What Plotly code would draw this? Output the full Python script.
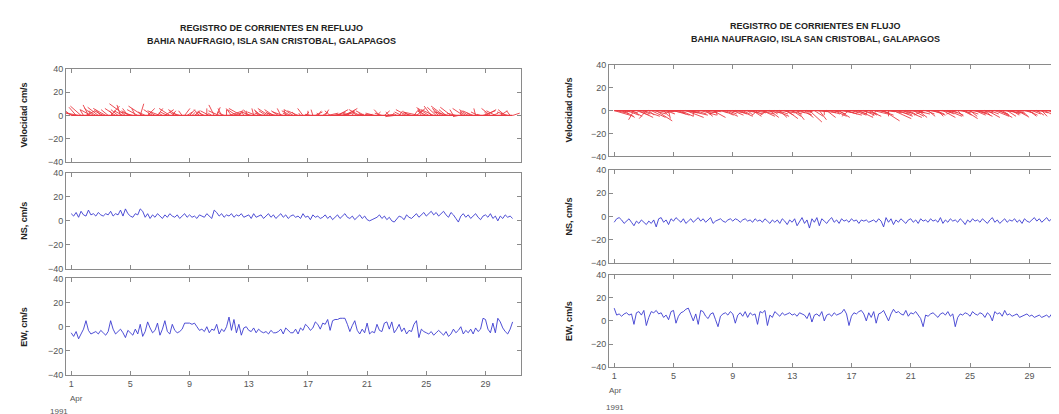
import plotly.graph_objects as go

# ---------------- DATA (4-hourly samples, 6 per day, Apr 1-30 1991) ----------------
samples_per_day = 6
n_days = 30

# REFLUJO (left)
ns_reflujo = [
    6, 4, 7, 3, 8, 5,
    4, 9, 5, 6, 4, 7,
    5, 4, 6, 5, 8, 4,
    6, 5, 9, 4, 10, 6,
    4, 3, 6, 5, 10, 8,
    3, 6, 2, 5, 3, 6,
    4, 2, 5, 3, 6, 4,
    3, 5, 2, 4, 6, 3,
    5, 3, 4, 2, 5, 4,
    3, 6, 4, 2, 9, 7,
    4, 6, 3, 5, 4, 6,
    3, 5, 4, 6, 3, 4,
    5, 2, 6, 3, 4, 5,
    2, 4, 6, 3, 5, 2,
    4, 6, 3, 5, 2, 4,
    5, 3, 4, 2, 6, 3,
    4, 1, 5, 3, 4, 2,
    3, 5, 2, 4, 1, 3,
    5, 2, 4, 6, 3, 2,
    4, 1, 3, 5, 2, 4,
    1, 0, 1, 2, 3, 5,
    2, 4, 1, 3, 0, -1,
    2, 4, 3, 1, 5, 3,
    2, 4, 6, 3, 5, 7,
    4, 6, 8, 5, 7, 4,
    6, 8, 5, 3, 7, 5,
    2, -1, 4, 6, 3, 5,
    2, 4, 6, 3, 1, 4,
    5, 3, 6, 2, 4, 0,
    4, 2, 5, 3, 4, 2,
]
ew_reflujo = [
    -5, -8, -4, -10, -6, -2,
    5, -3, -6, -5, -4, -6,
    -3, -5, -7, -4, 5, -2,
    -6, -4, -2, -5, -9, -3,
    -5, -7, -2, -6, 2, -8,
    -4, 4, -1, -5, -3, 3,
    -7, -2, 5, -4, -6, 2,
    -3, -5, -4, -2, 3, 3,
    3, 2, 3, 0, -3, -2,
    -4, 0, -5, -2, -3, 2,
    -6, -2, -4, 0, 8, -3,
    6, -5, 2, -7, -1, 0,
    -3, -4, -1, -5, -2, -4,
    -5, -4, -6, -3, -5, -5,
    -4, -2, -6, -1, -3, -5,
    -5, -2, -6, -1, -3, 2,
    0, -3, -1, 4, 2, -2,
    3, 2, 6, -3, 5, 6,
    6, 7, 7, 7, 2, -4,
    1, 5, -3, -6, -2, -5,
    3, -6, -4, -5, 2, -3,
    -4, 3, 4, -2, 4, -5,
    -2, 2, -4, -1, -6, -3,
    -4, 2, 5, -9, -2, -4,
    -5, -6, -4, -7, -5, -3,
    -5, -7, -4, -8, -6, -2,
    -5, -3, 0, -6, -3, -5,
    -2, -6, -1, -4, -2, 7,
    6, -2, -5, 3, -5, 7,
    4, -1, -4, -6, -2, 4,
]

# FLUJO (right)
ns_flujo = [
    -5, -2, -1, -3, -6, -4,
    -2, -5, -8, -4, -6, -3,
    -5, -7, -4, -6, -3, -9,
    -2, -1, -5, -3, -7, -2,
    -4, -1, -3, -5, -2, -6,
    -4, -2, -5, -3, -1, -4,
    -2, -5, -3, -1, -6, -4,
    -3, -2, -4, -5, -3, -2,
    -4, -2, -3, -5, -3, -2,
    -4, -3, -5, -2, -4, -3,
    -5, -2, -4, -6, -3, -5,
    -3, -6, -2, -4, -7, -3,
    -5, -2, -8, -4, -1, -6,
    -3, -10, -2, -5, -1, -8,
    -2, -4, -6, -3, -1, -5,
    -3, -6, -2, -4, -3, -5,
    -2, -4, -3, -6, -3, -4,
    -3, -5, -4, -3, -5, -2,
    -4, -9, -1, -5, -2, -7,
    -3, -5, -2, -4, -6, -3,
    -2, -5, -3, -6, -2, -4,
    -3, -5, -2, -4, -3, -5,
    -1, -6, -3, -5, -2, -4,
    -3, -5, -2, -4, -7, -3,
    -5, -2, -4, -3, -5, -2,
    -4, -6, -3, -1, -5, -3,
    -6, -4, -2, -5, -3, -4,
    -2, -5, -3, -6, -2, -4,
    -5, -3, -1, -4, -2, -5,
    -3, -1, -4, -2, -3, -4,
]
ew_flujo = [
    11, 5, 6, 4, 6, 7,
    5, 6, -3, 7, 8, 5,
    9, -4, 3, 8, 7, 9,
    6, 7, 3, 5, 1, 8,
    9, -2, 4, 7, 8, 10,
    11, 5, 0, 6, -3, 9,
    8, 4, 2, 6, 7, 1,
    -5, 4, 6, 7, 5, 8,
    6, -2, 5, 7, 4, 8,
    3, 7, 5, 6, -3, 8,
    7, 9, -4, 5, 3, 8,
    6, 4, 7, 5, 6, 7,
    5, 6, 4, 7, 6, 5,
    2, 7, -1, 5, 6, 4,
    8, 0, 5, 6, 4, 7,
    5, 6, 7, 10, 6, -4,
    4, 7, 6, 8, 9, 6,
    0, 7, 3, 8, -2, 6,
    7, 9, 5, 0, 6, 10,
    7, 8, 6, 5, 9, 4,
    7, 6, 8, 5, 2, -5,
    5, 4, 6, 7, 5, 3,
    6, 7, 5, 8, 4, 6,
    -5, 3, 6, 5, 7, 6,
    4, 8, 6, 5, 7, 6,
    3, 7, 5, 0, 8, 6,
    7, 4, 9, 5, 6, 4,
    5, 6, 3, 4, 5, 6,
    4, 5, 3, 4, 5, 3,
    4, 5, 3, 6, 4, 5,
]

day_ticks = [1, 5, 9, 13, 17, 21, 25, 29]
y_ticks = [-40, -20, 0, 20, 40]
titles = ["REGISTRO DE CORRIENTES EN REFLUJO", "REGISTRO DE CORRIENTES EN FLUJO"]
subtitle = "BAHIA NAUFRAGIO, ISLA SAN CRISTOBAL, GALAPAGOS"
ylabels = ["Velocidad cm/s", "NS, cm/s", "EW, cm/s"]

# time in day-of-month units
t = [1 + i / samples_per_day for i in range(samples_per_day * n_days)]

# ---------------- LAYOUT HELPERS ----------------
W, H = 1059, 414
X_RANGE = [0.65, 31.4]
STICK_K = 0.12  # days per cm/s, horizontal stick scaling (feather plot)
FONT = "Liberation Sans, Arial"

def px_x(p):
    return p / W

def px_y(p):
    return 1 - p / H

panels = [
    dict(x0=58, x1=513, rows=[(57, 153), (164, 262), (272, 371)],
         ns=ns_reflujo, ew=ew_reflujo, title=titles[0], tcx=263, ty=(15, 29),
         ylab_x=16, apr=(68, 395), yr=(51, 408)),
    dict(x0=601, x1=1057, rows=[(53, 147), (161, 256), (268, 363)],
         ns=ns_flujo, ew=ew_flujo, title=titles[1], tcx=807, ty=(13, 27),
         ylab_x=561, apr=(607, 387), yr=(607, 404)),
]

RED = "#ea3a42"
BLUE = "#3b3bd0"
AX = "#8a8a8a"
TXT = "#555555"

fig = go.Figure()
layout = dict(width=W, height=H, margin=dict(l=0, r=0, t=0, b=0),
              paper_bgcolor="white", plot_bgcolor="white", showlegend=False)
annotations = []
ax_i = 0
for p in panels:
    for r, (top, bot) in enumerate(p["rows"]):
        ax_i += 1
        xa = "xaxis" if ax_i == 1 else f"xaxis{ax_i}"
        ya = "yaxis" if ax_i == 1 else f"yaxis{ax_i}"
        xr = "x" if ax_i == 1 else f"x{ax_i}"
        yr = "y" if ax_i == 1 else f"y{ax_i}"
        if r == 0:
            sx, sy = [], []
            for ti, u, v in zip(t, p["ew"], p["ns"]):
                sx += [ti, ti + STICK_K * u, None]
                sy += [0, v, None]
            fig.add_trace(go.Scatter(x=sx, y=sy, mode="lines",
                                     line=dict(color=RED, width=0.9),
                                     xaxis=xr, yaxis=yr, hoverinfo="skip"))
            # baseline of the feather plot
            fig.add_trace(go.Scatter(x=[t[0], t[-1]], y=[0, 0], mode="lines",
                                     line=dict(color=RED, width=1.2),
                                     xaxis=xr, yaxis=yr, hoverinfo="skip"))
        else:
            fig.add_trace(go.Scatter(x=t, y=p["ns"] if r == 1 else p["ew"], mode="lines",
                                     line=dict(color=BLUE, width=0.9),
                                     xaxis=xr, yaxis=yr))
        show_xlab = (r == 2)
        layout[xa] = dict(domain=[px_x(p["x0"]), px_x(p["x1"])], anchor=yr,
                          range=X_RANGE, tickvals=day_ticks,
                          ticktext=[str(d) for d in day_ticks],
                          showticklabels=show_xlab, ticks="inside", ticklen=4,
                          tickcolor=AX, showline=True, linecolor=AX, linewidth=1,
                          mirror="allticks", showgrid=False, zeroline=False,
                          tickfont=dict(family=FONT, size=9, color=TXT))
        layout[ya] = dict(domain=[px_y(bot), px_y(top)], anchor=xr,
                          range=[-40, 40], tickvals=y_ticks,
                          ticks="inside", ticklen=4, tickcolor=AX,
                          showline=True, linecolor=AX, linewidth=1,
                          mirror="allticks", showgrid=False, zeroline=False,
                          tickfont=dict(family=FONT, size=9, color=TXT))
        annotations.append(dict(text=f"<b>{ylabels[r]}</b>", textangle=-90, showarrow=False,
                                x=px_x(p["ylab_x"]), y=px_y((top + bot) / 2),
                                xref="paper", yref="paper", xanchor="center", yanchor="middle",
                                font=dict(family=FONT, size=9, color="#222")))
    annotations.append(dict(text=f"<b>{p['title']}</b>", showarrow=False,
                            x=px_x(p["tcx"]), y=px_y(p["ty"][0]), xref="paper", yref="paper",
                            xanchor="center", yanchor="middle",
                            font=dict(family=FONT, size=9, color="#222")))
    annotations.append(dict(text=f"<b>{subtitle}</b>", showarrow=False,
                            x=px_x(p["tcx"]), y=px_y(p["ty"][1]), xref="paper", yref="paper",
                            xanchor="center", yanchor="middle",
                            font=dict(family=FONT, size=9, color="#222")))
    annotations.append(dict(text="Apr", showarrow=False, x=px_x(p["apr"][0]), y=px_y(p["apr"][1]),
                            xref="paper", yref="paper", xanchor="center", yanchor="middle",
                            font=dict(family=FONT, size=8, color=TXT)))
    annotations.append(dict(text="1991", showarrow=False, x=px_x(p["yr"][0]), y=px_y(p["yr"][1]),
                            xref="paper", yref="paper", xanchor="center", yanchor="middle",
                            font=dict(family=FONT, size=8, color=TXT)))

layout["annotations"] = annotations
fig.update_layout(**layout)
fig.write_html("out.html")
